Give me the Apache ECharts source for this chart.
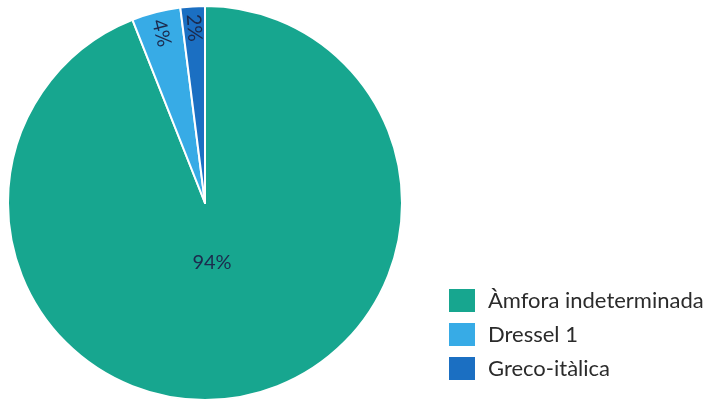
<!DOCTYPE html>
<html><head><meta charset="utf-8">
<script src="https://cdn.jsdelivr.net/npm/echarts@6/dist/echarts.min.js"></script>
<style>html,body{margin:0;padding:0;background:#fff}#c{width:707px;height:402px}</style>
</head><body><div id="c"></div>
<script>
var categories = ['Àmfora indeterminada', 'Dressel 1', 'Greco-itàlica'];
var values = [94, 4, 2];
var colors = ['#17a68f', '#37abe6', '#1b6fc2'];

var chart = echarts.init(document.getElementById('c'));
var labelStyle = { fontFamily: 'Lato', fontSize: 20, color: '#1c2a4d' };
var mainData = categories.map(function (name, i) {
  var item = { name: name, value: values[i], itemStyle: { color: colors[i] } };
  item.label = i === 0 ? { show: true, offset: [-12, -40] } : { show: false };
  return item;
});
var ringData = categories.map(function (name, i) {
  return { name: name, value: values[i], label: { show: i !== 0 } };
});
chart.setOption({
  animation: false,
  legend: {
    orient: 'vertical', left: 447, top: 287, padding: 0,
    itemWidth: 28, itemHeight: 25, itemGap: 7,
    icon: 'rect',
    textStyle: { fontFamily: 'Lato', fontSize: 22, color: '#2b2b2b', padding: [0, 0, 0, 7] },
    data: categories
  },
  series: [{
    type: 'pie',
    center: [205, 203],
    radius: [0, 197],
    startAngle: 90,
    clockwise: true,
    label: Object.assign({ position: 'inside', formatter: '{c}%' }, labelStyle),
    labelLine: { show: false },
    itemStyle: { borderColor: '#fff', borderWidth: 2 },
    data: mainData
  }, {
    type: 'pie',
    silent: true,
    legendHoverLink: false,
    center: [205, 203],
    radius: [145, 200],
    startAngle: 90,
    clockwise: true,
    itemStyle: { color: 'rgba(0,0,0,0)', borderWidth: 0 },
    label: Object.assign({ position: 'inside', formatter: '{c}%', rotate: 'radial', lineHeight: 16 }, labelStyle),
    labelLine: { show: false },
    data: ringData
  }]
});
</script></body></html>
